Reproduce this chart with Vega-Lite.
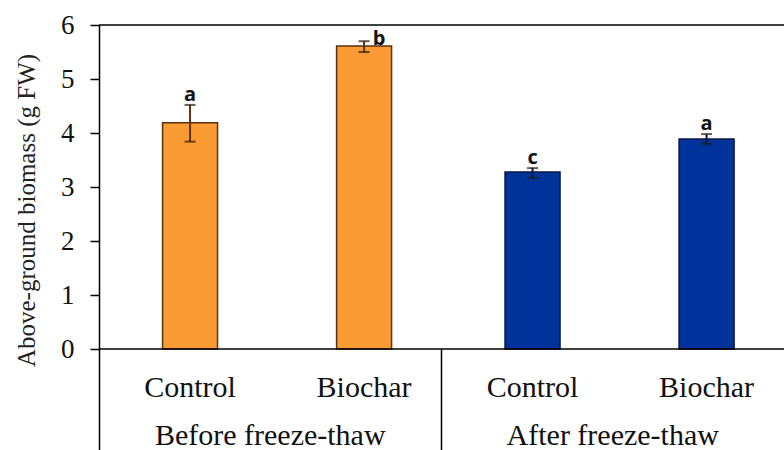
{
  "$schema": "https://vega.github.io/schema/vega-lite/v6.json",
  "width": 685,
  "height": 425,
  "autosize": {"type": "none"},
  "padding": {"left": 99, "top": 25, "right": 0, "bottom": 0},
  "background": "white",
  "config": {
    "view": {"stroke": null},
    "font": "Liberation Serif",
    "axisY": {"labelFont": "Liberation Serif", "labelFontSize": 27, "labelColor": "#111", "labelPadding": 16,
              "tickSize": 9, "tickColor": "black", "tickWidth": 1.5, "domainColor": "black", "domainWidth": 1.5, "grid": false,
              "titleFont": "Liberation Serif", "titleFontSize": 25, "titleFontWeight": "normal", "titleColor": "#222"}
  },
  "data": {
    "values": [
      {"phase": "Before freeze-thaw", "treatment": "Control", "biomass": 4.19, "low": 3.84, "high": 4.52, "letter": "a"},
      {"phase": "Before freeze-thaw", "treatment": "Biochar", "biomass": 5.61, "low": 5.5, "high": 5.7, "letter": "b"},
      {"phase": "After freeze-thaw", "treatment": "Control", "biomass": 3.28, "low": 3.17, "high": 3.35, "letter": "c"},
      {"phase": "After freeze-thaw", "treatment": "Biochar", "biomass": 3.89, "low": 3.8, "high": 3.98, "letter": "a"}
    ]
  },
  "layer": [
    {
      "mark": {"type": "bar", "strokeWidth": 1.5},
      "encoding": {
        "x": {"field": "phase", "type": "nominal", "sort": ["Before freeze-thaw", "After freeze-thaw"],
              "scale": {"domain": ["Before freeze-thaw", "After freeze-thaw"], "paddingInner": 0, "paddingOuter": 0}, "axis": null},
        "xOffset": {"field": "treatment", "type": "nominal",
              "scale": {"domain": ["Control", "Biochar"], "paddingInner": 0.684, "paddingOuter": 0.326, "align": 0.56}},
        "y": {"field": "biomass", "type": "quantitative",
              "scale": {"domain": [-1.87, 6], "nice": false, "zero": false},
              "axis": {"values": [0, 1, 2, 3, 4, 5, 6], "title": "Above-ground biomass (g FW)",
                       "labelFont": "Liberation Serif", "labelFontSize": 27,
                       "titleX": -73, "titleY": 185, "titleBaseline": "middle", "titleAngle": -90}},
        "color": {"field": "phase", "type": "nominal", "scale": {"domain": ["Before freeze-thaw", "After freeze-thaw"], "range": ["#fa9b33", "#00329c"]}, "legend": null},
        "stroke": {"field": "phase", "type": "nominal", "scale": {"domain": ["Before freeze-thaw", "After freeze-thaw"], "range": ["#5a3212", "#0a1540"]}, "legend": null}
      }
    },
    {
      "mark": {"type": "rule", "strokeWidth": 2},
      "encoding": {
        "x": {"field": "phase", "type": "nominal"},
        "xOffset": {"field": "treatment", "type": "nominal"},
        "y": {"field": "low", "type": "quantitative"},
        "y2": {"field": "high"},
        "stroke": {"field": "phase", "type": "nominal", "legend": null}
      }
    },
    {
      "mark": {"type": "tick", "size": 11, "thickness": 2},
      "encoding": {
        "x": {"field": "phase", "type": "nominal"},
        "xOffset": {"field": "treatment", "type": "nominal"},
        "y": {"field": "low", "type": "quantitative"},
        "color": {"value": "#2a1a0a"}
      }
    },
    {
      "mark": {"type": "tick", "size": 11, "thickness": 2},
      "encoding": {
        "x": {"field": "phase", "type": "nominal"},
        "xOffset": {"field": "treatment", "type": "nominal"},
        "y": {"field": "high", "type": "quantitative"},
        "color": {"value": "#2a1a0a"}
      }
    },
    {
      "transform": [{"filter": "!(datum.phase == 'Before freeze-thaw' && datum.treatment == 'Biochar')"}],
      "mark": {"type": "text", "font": "Open Sans", "fontWeight": "bold", "fontSize": 20, "baseline": "alphabetic", "dy": -4, "color": "#111"},
      "encoding": {
        "x": {"field": "phase", "type": "nominal"},
        "xOffset": {"field": "treatment", "type": "nominal"},
        "y": {"field": "high", "type": "quantitative"},
        "text": {"field": "letter"}
      }
    },
    {
      "transform": [{"filter": "datum.phase == 'Before freeze-thaw' && datum.treatment == 'Biochar'"}],
      "mark": {"type": "text", "font": "Open Sans", "fontWeight": "bold", "fontSize": 20, "baseline": "alphabetic", "dy": 4, "dx": 15, "color": "#111"},
      "encoding": {
        "x": {"field": "phase", "type": "nominal"},
        "xOffset": {"field": "treatment", "type": "nominal"},
        "y": {"field": "high", "type": "quantitative"},
        "text": {"field": "letter"}
      }
    },
    {
      "mark": {"type": "text", "font": "Liberation Serif", "fontSize": 30, "baseline": "alphabetic", "color": "#111"},
      "encoding": {
        "x": {"field": "phase", "type": "nominal"},
        "xOffset": {"field": "treatment", "type": "nominal"},
        "y": {"datum": -0.89, "type": "quantitative"},
        "text": {"field": "treatment"}
      }
    },
    {
      "transform": [{"filter": "datum.treatment == 'Control'"}],
      "mark": {"type": "text", "font": "Liberation Serif", "fontSize": 30, "baseline": "alphabetic", "color": "#111"},
      "encoding": {
        "x": {"field": "phase", "type": "nominal"},
        "y": {"datum": -1.78, "type": "quantitative"},
        "text": {"field": "phase"}
      }
    },
    {
      "data": {"values": [{}]},
      "mark": {"type": "rule", "color": "black", "strokeWidth": 1.5},
      "encoding": {
        "x": {"datum": "After freeze-thaw", "type": "nominal", "bandPosition": 0},
        "y": {"datum": 0, "type": "quantitative"},
        "y2": {"datum": -1.87}
      }
    },
    {
      "data": {"values": [{}]},
      "mark": {"type": "rule", "color": "black", "strokeWidth": 1.5},
      "encoding": {"y": {"datum": 6, "type": "quantitative"}}
    },
    {
      "data": {"values": [{}]},
      "mark": {"type": "rule", "color": "black", "strokeWidth": 1.5},
      "encoding": {"y": {"datum": 0, "type": "quantitative"}}
    }
  ]
}
